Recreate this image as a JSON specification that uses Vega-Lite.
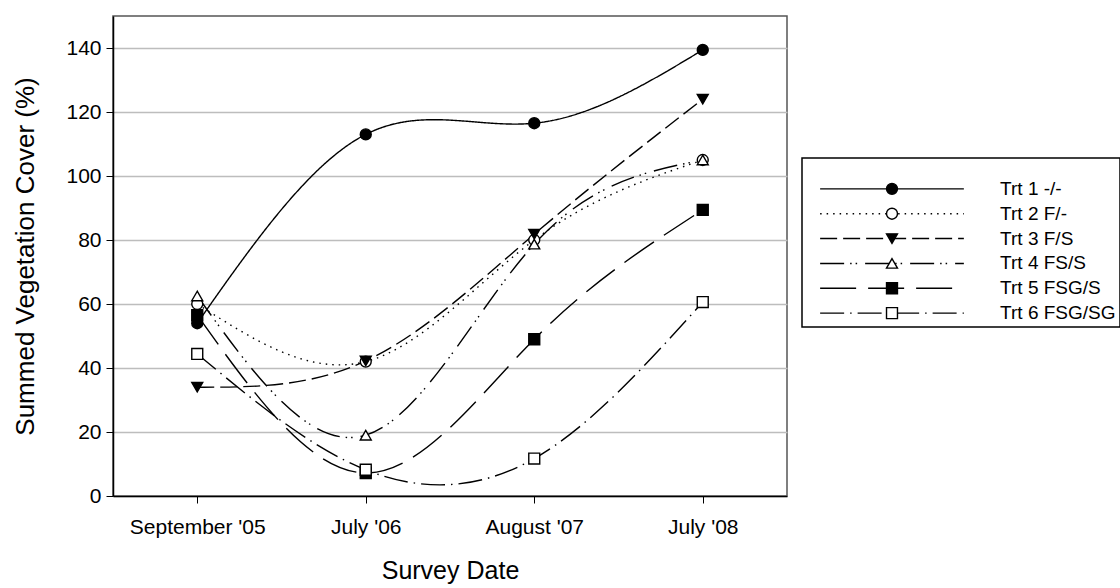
{
  "$schema": "https://vega.github.io/schema/vega-lite/v6.json",
  "background": "white",
  "padding": {"left": 12, "top": 15, "right": 0, "bottom": 0},
  "config": {
    "font": "Liberation Sans",
    "text": {"font": "Liberation Sans"},
    "axis": {"labelFont": "Liberation Sans", "titleFont": "Liberation Sans", "labelColor": "black", "titleColor": "black", "titleFontWeight": "normal"},
    "axisY": {"grid": true, "gridColor": "#bdbdbd", "gridWidth": 1.5, "gridOpacity": 1},
    "axisX": {"grid": false}
  },
  "datasets": {
    "cover": [
      {"date": "September '05", "trt": "Trt 1 -/-", "value": 54},
      {"date": "July '06", "trt": "Trt 1 -/-", "value": 113},
      {"date": "August '07", "trt": "Trt 1 -/-", "value": 116.5},
      {"date": "July '08", "trt": "Trt 1 -/-", "value": 139.4},
      {"date": "September '05", "trt": "Trt 2 F/-", "value": 60},
      {"date": "July '06", "trt": "Trt 2 F/-", "value": 42},
      {"date": "August '07", "trt": "Trt 2 F/-", "value": 80},
      {"date": "July '08", "trt": "Trt 2 F/-", "value": 105},
      {"date": "September '05", "trt": "Trt 3 F/S", "value": 34},
      {"date": "July '06", "trt": "Trt 3 F/S", "value": 42.2},
      {"date": "August '07", "trt": "Trt 3 F/S", "value": 81.8},
      {"date": "July '08", "trt": "Trt 3 F/S", "value": 124},
      {"date": "September '05", "trt": "Trt 4 FS/S", "value": 62.5},
      {"date": "July '06", "trt": "Trt 4 FS/S", "value": 19},
      {"date": "August '07", "trt": "Trt 4 FS/S", "value": 78.7},
      {"date": "July '08", "trt": "Trt 4 FS/S", "value": 105},
      {"date": "September '05", "trt": "Trt 5 FSG/S", "value": 56.5},
      {"date": "July '06", "trt": "Trt 5 FSG/S", "value": 7.2},
      {"date": "August '07", "trt": "Trt 5 FSG/S", "value": 49},
      {"date": "July '08", "trt": "Trt 5 FSG/S", "value": 89.4},
      {"date": "September '05", "trt": "Trt 6 FSG/SG", "value": 44.4},
      {"date": "July '06", "trt": "Trt 6 FSG/SG", "value": 8.2},
      {"date": "August '07", "trt": "Trt 6 FSG/SG", "value": 11.7},
      {"date": "July '08", "trt": "Trt 6 FSG/SG", "value": 60.6}
    ],
    "legend": [
      {"trt": "Trt 1 -/-"},
      {"trt": "Trt 2 F/-"},
      {"trt": "Trt 3 F/S"},
      {"trt": "Trt 4 FS/S"},
      {"trt": "Trt 5 FSG/S"},
      {"trt": "Trt 6 FSG/SG"}
    ]
  },
  "resolve": {"scale": {"x": "independent", "y": "independent"}},
  "spacing": 13,
  "hconcat": [
    {
      "width": 674,
      "height": 480,
      "view": {"stroke": "#555", "strokeWidth": 1.5},
      "data": {"name": "cover"},
      "encoding": {
        "x": {
          "field": "date", "type": "ordinal",
          "sort": ["September '05", "July '06", "August '07", "July '08"],
          "scale": {"type": "point", "padding": 0.5},
          "axis": {"title": "Survey Date", "labelAngle": 0, "labelFontSize": 21, "titleFontSize": 25, "tickSize": 7, "tickColor": "black", "domainColor": "black", "domainWidth": 1.5, "labelPadding": 13, "titlePadding": 21, "grid": false}
        },
        "y": {
          "field": "value", "type": "quantitative",
          "scale": {"domain": [0, 150], "nice": false, "zero": true},
          "axis": {"title": "Summed Vegetation Cover (%)", "values": [0, 20, 40, 60, 80, 100, 120, 140], "labelFontSize": 21, "titleFontSize": 26, "tickSize": 7, "tickColor": "black", "domainColor": "black", "domainWidth": 1.5, "labelPadding": 5, "titlePadding": 27, "grid": true, "gridColor": "#bdbdbd", "gridWidth": 1.5}
        }
      },
      "layer": [
        {
          "mark": {"type": "line", "interpolate": "natural", "color": "black", "strokeWidth": 1.4},
          "encoding": {
            "detail": {"field": "trt"},
            "strokeDash": {
              "field": "trt", "type": "nominal", "legend": null,
              "scale": {
                "domain": ["Trt 1 -/-", "Trt 2 F/-", "Trt 3 F/S", "Trt 4 FS/S", "Trt 5 FSG/S", "Trt 6 FSG/SG"],
                "range": [[1, 0], [1.5, 5], [17, 6], [24, 6, 1.5, 4, 1.5, 8], [36, 12], [24, 6, 1.5, 6]]
              }
            }
          }
        },
        {
          "mark": {"type": "point", "size": 120, "stroke": "black", "strokeWidth": 1.4, "opacity": 1},
          "encoding": {
            "shape": {
              "field": "trt", "type": "nominal", "legend": null,
              "scale": {
                "domain": ["Trt 1 -/-", "Trt 2 F/-", "Trt 3 F/S", "Trt 4 FS/S", "Trt 5 FSG/S", "Trt 6 FSG/SG"],
                "range": ["circle", "circle", "triangle-down", "triangle-up", "square", "square"]
              }
            },
            "fill": {
              "field": "trt", "type": "nominal", "legend": null,
              "scale": {
                "domain": ["Trt 1 -/-", "Trt 2 F/-", "Trt 3 F/S", "Trt 4 FS/S", "Trt 5 FSG/S", "Trt 6 FSG/SG"],
                "range": ["black", "white", "black", "white", "black", "white"]
              }
            }
          }
        }
      ]
    },
    {
      "spacing": 20,
      "vconcat": [
        {
          "width": 318,
          "height": 121,
          "view": {"stroke": null},
          "data": {"values": []},
          "mark": {"type": "point"}
        },
        {
          "width": 318,
          "height": 169,
          "view": {"stroke": "black", "strokeWidth": 1.5},
          "data": {"name": "legend"},
          "encoding": {
            "y": {
              "field": "trt", "type": "nominal",
              "scale": {"type": "point", "domain": ["Trt 1 -/-", "Trt 2 F/-", "Trt 3 F/S", "Trt 4 FS/S", "Trt 5 FSG/S", "Trt 6 FSG/SG"], "padding": 0.9, "align": 0.69},
              "axis": null
            }
          },
          "layer": [
            {
              "mark": {"type": "rule", "color": "black", "strokeWidth": 1.4},
              "encoding": {
                "x": {"datum": 0.057, "type": "quantitative", "scale": {"domain": [0, 1]}, "axis": null},
                "x2": {"datum": 0.509},
                "strokeDash": {
                  "field": "trt", "type": "nominal", "legend": null,
                  "scale": {
                    "domain": ["Trt 1 -/-", "Trt 2 F/-", "Trt 3 F/S", "Trt 4 FS/S", "Trt 5 FSG/S", "Trt 6 FSG/SG"],
                    "range": [[1, 0], [1.5, 5], [17, 6], [24, 6, 1.5, 4, 1.5, 8], [36, 12], [24, 6, 1.5, 6]]
                  }
                }
              }
            },
            {
              "mark": {"type": "point", "size": 120, "stroke": "black", "strokeWidth": 1.4, "opacity": 1},
              "encoding": {
                "x": {"datum": 0.283, "type": "quantitative", "scale": {"domain": [0, 1]}, "axis": null},
                "shape": {
                  "field": "trt", "type": "nominal", "legend": null,
                  "scale": {
                    "domain": ["Trt 1 -/-", "Trt 2 F/-", "Trt 3 F/S", "Trt 4 FS/S", "Trt 5 FSG/S", "Trt 6 FSG/SG"],
                    "range": ["circle", "circle", "triangle-down", "triangle-up", "square", "square"]
                  }
                },
                "fill": {
                  "field": "trt", "type": "nominal", "legend": null,
                  "scale": {
                    "domain": ["Trt 1 -/-", "Trt 2 F/-", "Trt 3 F/S", "Trt 4 FS/S", "Trt 5 FSG/S", "Trt 6 FSG/SG"],
                    "range": ["black", "white", "black", "white", "black", "white"]
                  }
                }
              }
            },
            {
              "mark": {"type": "text", "align": "left", "baseline": "middle", "fontSize": 19, "font": "Liberation Sans", "color": "black"},
              "encoding": {
                "x": {"datum": 0.623, "type": "quantitative", "scale": {"domain": [0, 1]}, "axis": null},
                "text": {"field": "trt"}
              }
            }
          ]
        }
      ]
    }
  ]
}
